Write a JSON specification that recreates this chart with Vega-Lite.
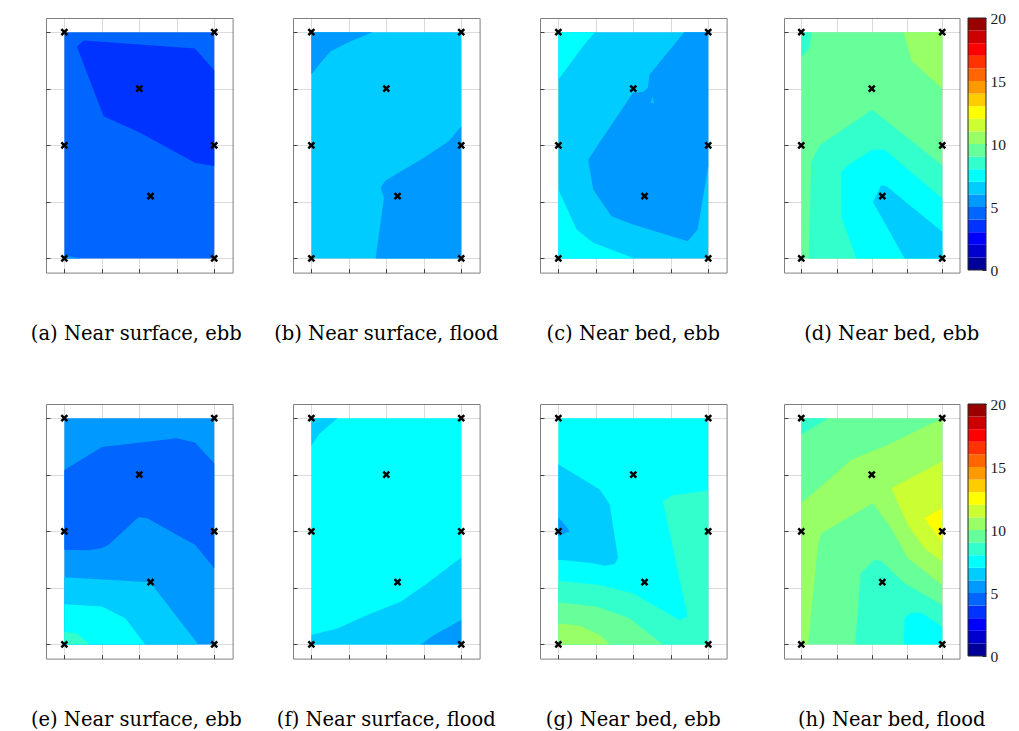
{
 "$schema": "https://vega.github.io/schema/vega-lite/v6.json",
 "background": "white",
 "padding": {"left": 30, "top": 11, "right": 5, "bottom": 5},
 "datasets": {
  "pts": [{"x":0,"y":0},{"x":4,"y":0},{"x":0,"y":2},{"x":4,"y":2},{"x":0,"y":4},{"x":4,"y":4},{"x":2,"y":3},{"x":2.3,"y":1.1}],
  "cb": [{"lo":0,"hi":1,"b":1},{"lo":1,"hi":2,"b":2},{"lo":2,"hi":3,"b":3},{"lo":3,"hi":4,"b":4},{"lo":4,"hi":5,"b":5},{"lo":5,"hi":6,"b":6},{"lo":6,"hi":7,"b":7},{"lo":7,"hi":8,"b":8},{"lo":8,"hi":9,"b":9},{"lo":9,"hi":10,"b":10},{"lo":10,"hi":11,"b":11},{"lo":11,"hi":12,"b":12},{"lo":12,"hi":13,"b":13},{"lo":13,"hi":14,"b":14},{"lo":14,"hi":15,"b":15},{"lo":15,"hi":16,"b":16},{"lo":16,"hi":17,"b":17},{"lo":17,"hi":18,"b":18},{"lo":18,"hi":19,"b":19},{"lo":19,"hi":20,"b":20}],
  "poly": [
   {"p":"a","id":"a0","b":5,"i":0,"x":0,"y":0},{"p":"a","id":"a0","b":5,"i":1,"x":4,"y":0},{"p":"a","id":"a0","b":5,"i":2,"x":4,"y":4},{"p":"a","id":"a0","b":5,"i":3,"x":0,"y":4},
   {"p":"a","id":"a1","b":4,"i":0,"x":0.337,"y":3.741},{"p":"a","id":"a1","b":4,"i":1,"x":0.514,"y":3.853},{"p":"a","id":"a1","b":4,"i":2,"x":3.486,"y":3.711},{"p":"a","id":"a1","b":4,"i":3,"x":4,"y":3.328},{"p":"a","id":"a1","b":4,"i":4,"x":4,"y":1.632},{"p":"a","id":"a1","b":4,"i":5,"x":3.486,"y":1.691},{"p":"a","id":"a1","b":4,"i":6,"x":2.998,"y":1.867},{"p":"a","id":"a1","b":4,"i":7,"x":2.022,"y":2.221},{"p":"a","id":"a1","b":4,"i":8,"x":1.047,"y":2.515},
   {"p":"a","id":"a2","b":6,"i":0,"x":0,"y":0},{"p":"a","id":"a2","b":6,"i":1,"x":0,"y":0.06},{"p":"a","id":"a2","b":6,"i":2,"x":0.2,"y":0.03},{"p":"a","id":"a2","b":6,"i":3,"x":0.45,"y":0},
   {"p":"b","id":"b0","b":7,"i":0,"x":0,"y":0},{"p":"b","id":"b0","b":7,"i":1,"x":4,"y":0},{"p":"b","id":"b0","b":7,"i":2,"x":4,"y":4},{"p":"b","id":"b0","b":7,"i":3,"x":0,"y":4},
   {"p":"b","id":"b1","b":6,"i":0,"x":0,"y":4},{"p":"b","id":"b1","b":6,"i":1,"x":1.627,"y":4},{"p":"b","id":"b1","b":6,"i":2,"x":1.049,"y":3.841},{"p":"b","id":"b1","b":6,"i":3,"x":0.516,"y":3.664},{"p":"b","id":"b1","b":6,"i":4,"x":0.249,"y":3.458},{"p":"b","id":"b1","b":6,"i":5,"x":0,"y":3.252},
   {"p":"b","id":"b2","b":6,"i":0,"x":1.716,"y":0},{"p":"b","id":"b2","b":6,"i":1,"x":1.938,"y":1.072},{"p":"b","id":"b2","b":6,"i":2,"x":1.849,"y":1.249},{"p":"b","id":"b2","b":6,"i":3,"x":1.982,"y":1.378},{"p":"b","id":"b2","b":6,"i":4,"x":3.004,"y":1.779},{"p":"b","id":"b2","b":6,"i":5,"x":3.671,"y":2.074},{"p":"b","id":"b2","b":6,"i":6,"x":4,"y":2.339},{"p":"b","id":"b2","b":6,"i":7,"x":4,"y":0},
   {"p":"c","id":"c0","b":7,"i":0,"x":0,"y":0},{"p":"c","id":"c0","b":7,"i":1,"x":4,"y":0},{"p":"c","id":"c0","b":7,"i":2,"x":4,"y":4},{"p":"c","id":"c0","b":7,"i":3,"x":0,"y":4},
   {"p":"c","id":"c1","b":8,"i":0,"x":0,"y":4},{"p":"c","id":"c1","b":8,"i":1,"x":0.973,"y":4},{"p":"c","id":"c1","b":8,"i":2,"x":0.664,"y":3.753},{"p":"c","id":"c1","b":8,"i":3,"x":0,"y":3.164},
   {"p":"c","id":"c2","b":8,"i":0,"x":0,"y":1.219},{"p":"c","id":"c2","b":8,"i":1,"x":0.487,"y":0.513},{"p":"c","id":"c2","b":8,"i":2,"x":0.929,"y":0.277},{"p":"c","id":"c2","b":8,"i":3,"x":2.035,"y":0},{"p":"c","id":"c2","b":8,"i":4,"x":0,"y":0},
   {"p":"c","id":"c3","b":6,"i":0,"x":3.363,"y":4},{"p":"c","id":"c3","b":6,"i":1,"x":4,"y":4},{"p":"c","id":"c3","b":6,"i":2,"x":4,"y":1.632},{"p":"c","id":"c3","b":6,"i":3,"x":3.717,"y":0.513},{"p":"c","id":"c3","b":6,"i":4,"x":3.451,"y":0.306},{"p":"c","id":"c3","b":6,"i":5,"x":1.991,"y":0.601},{"p":"c","id":"c3","b":6,"i":6,"x":1.416,"y":0.748},{"p":"c","id":"c3","b":6,"i":7,"x":0.929,"y":1.219},{"p":"c","id":"c3","b":6,"i":8,"x":0.796,"y":1.75},{"p":"c","id":"c3","b":6,"i":9,"x":1.991,"y":2.928},{"p":"c","id":"c3","b":6,"i":10,"x":2.257,"y":2.94},{"p":"c","id":"c3","b":6,"i":11,"x":2.389,"y":3.016},{"p":"c","id":"c3","b":6,"i":12,"x":2.434,"y":3.252},
   {"p":"c","id":"c4","b":7,"i":0,"x":2.47,"y":2.76},{"p":"c","id":"c4","b":7,"i":1,"x":2.52,"y":2.86},{"p":"c","id":"c4","b":7,"i":2,"x":2.55,"y":2.74},
   {"p":"d","id":"d0","b":10,"i":0,"x":0,"y":0},{"p":"d","id":"d0","b":10,"i":1,"x":4,"y":0},{"p":"d","id":"d0","b":10,"i":2,"x":4,"y":4},{"p":"d","id":"d0","b":10,"i":3,"x":0,"y":4},
   {"p":"d","id":"d1","b":9,"i":0,"x":0,"y":4},{"p":"d","id":"d1","b":9,"i":1,"x":0.284,"y":4},{"p":"d","id":"d1","b":9,"i":2,"x":0.236,"y":3.706},{"p":"d","id":"d1","b":9,"i":3,"x":0,"y":3.559},
   {"p":"d","id":"d2","b":11,"i":0,"x":2.913,"y":4},{"p":"d","id":"d2","b":11,"i":1,"x":4,"y":4},{"p":"d","id":"d2","b":11,"i":2,"x":4,"y":3},{"p":"d","id":"d2","b":11,"i":3,"x":3.121,"y":3.5},
   {"p":"d","id":"d3","b":9,"i":0,"x":0.208,"y":0},{"p":"d","id":"d3","b":9,"i":1,"x":0.284,"y":1.706},{"p":"d","id":"d3","b":9,"i":2,"x":0.52,"y":2.0},{"p":"d","id":"d3","b":9,"i":3,"x":2.014,"y":2.629},{"p":"d","id":"d3","b":9,"i":4,"x":4,"y":1.647},{"p":"d","id":"d3","b":9,"i":5,"x":4,"y":0},
   {"p":"d","id":"d4","b":8,"i":0,"x":1.56,"y":0},{"p":"d","id":"d4","b":8,"i":1,"x":1.135,"y":0.735},{"p":"d","id":"d4","b":8,"i":2,"x":1.135,"y":1.529},{"p":"d","id":"d4","b":8,"i":3,"x":1.324,"y":1.647},{"p":"d","id":"d4","b":8,"i":4,"x":2.033,"y":1.924},{"p":"d","id":"d4","b":8,"i":5,"x":2.364,"y":1.924},{"p":"d","id":"d4","b":8,"i":6,"x":4,"y":1.059},{"p":"d","id":"d4","b":8,"i":7,"x":4,"y":0},
   {"p":"d","id":"d5","b":7,"i":0,"x":2.931,"y":0},{"p":"d","id":"d5","b":7,"i":1,"x":2.033,"y":1.0},{"p":"d","id":"d5","b":7,"i":2,"x":2.27,"y":1.294},{"p":"d","id":"d5","b":7,"i":3,"x":2.411,"y":1.282},{"p":"d","id":"d5","b":7,"i":4,"x":4,"y":0.471},{"p":"d","id":"d5","b":7,"i":5,"x":4,"y":0},
   {"p":"e","id":"e0","b":6,"i":0,"x":0,"y":0},{"p":"e","id":"e0","b":6,"i":1,"x":4,"y":0},{"p":"e","id":"e0","b":6,"i":2,"x":4,"y":4},{"p":"e","id":"e0","b":6,"i":3,"x":0,"y":4},
   {"p":"e","id":"e1","b":5,"i":0,"x":0,"y":3.083},{"p":"e","id":"e1","b":5,"i":1,"x":1.002,"y":3.491},{"p":"e","id":"e1","b":5,"i":2,"x":2.998,"y":3.645},{"p":"e","id":"e1","b":5,"i":3,"x":3.486,"y":3.568},{"p":"e","id":"e1","b":5,"i":4,"x":4,"y":3.201},{"p":"e","id":"e1","b":5,"i":5,"x":4,"y":1.349},{"p":"e","id":"e1","b":5,"i":6,"x":3.486,"y":1.763},{"p":"e","id":"e1","b":5,"i":7,"x":2.998,"y":1.941},{"p":"e","id":"e1","b":5,"i":8,"x":2.2,"y":2.237},{"p":"e","id":"e1","b":5,"i":9,"x":1.978,"y":2.249},{"p":"e","id":"e1","b":5,"i":10,"x":1.18,"y":1.763},{"p":"e","id":"e1","b":5,"i":11,"x":1.002,"y":1.704},{"p":"e","id":"e1","b":5,"i":12,"x":0.647,"y":1.663},{"p":"e","id":"e1","b":5,"i":13,"x":0,"y":1.675},
   {"p":"e","id":"e2","b":7,"i":0,"x":0,"y":1.189},{"p":"e","id":"e2","b":7,"i":1,"x":2.288,"y":1.101},{"p":"e","id":"e2","b":7,"i":2,"x":3.574,"y":0},{"p":"e","id":"e2","b":7,"i":3,"x":0,"y":0},
   {"p":"e","id":"e3","b":8,"i":0,"x":0,"y":0.71},{"p":"e","id":"e3","b":8,"i":1,"x":1.002,"y":0.669},{"p":"e","id":"e3","b":8,"i":2,"x":1.623,"y":0.462},{"p":"e","id":"e3","b":8,"i":3,"x":2.155,"y":0},{"p":"e","id":"e3","b":8,"i":4,"x":0,"y":0},
   {"p":"e","id":"e4","b":9,"i":0,"x":0,"y":0.225},{"p":"e","id":"e4","b":9,"i":1,"x":0.337,"y":0.195},{"p":"e","id":"e4","b":9,"i":2,"x":0.692,"y":0},{"p":"e","id":"e4","b":9,"i":3,"x":0,"y":0},
   {"p":"f","id":"f0","b":8,"i":0,"x":0,"y":0},{"p":"f","id":"f0","b":8,"i":1,"x":4,"y":0},{"p":"f","id":"f0","b":8,"i":2,"x":4,"y":4},{"p":"f","id":"f0","b":8,"i":3,"x":0,"y":4},
   {"p":"f","id":"f1","b":7,"i":0,"x":0,"y":4},{"p":"f","id":"f1","b":7,"i":1,"x":0.693,"y":4},{"p":"f","id":"f1","b":7,"i":2,"x":0.204,"y":3.716},{"p":"f","id":"f1","b":7,"i":3,"x":0,"y":3.509},
   {"p":"f","id":"f2","b":7,"i":0,"x":0,"y":0.166},{"p":"f","id":"f2","b":7,"i":1,"x":0.338,"y":0.225},{"p":"f","id":"f2","b":7,"i":2,"x":0.693,"y":0.284},{"p":"f","id":"f2","b":7,"i":3,"x":1.493,"y":0.521},{"p":"f","id":"f2","b":7,"i":4,"x":2.382,"y":0.757},{"p":"f","id":"f2","b":7,"i":5,"x":3.093,"y":1.083},{"p":"f","id":"f2","b":7,"i":6,"x":4,"y":1.538},{"p":"f","id":"f2","b":7,"i":7,"x":4,"y":0},{"p":"f","id":"f2","b":7,"i":8,"x":0,"y":0},
   {"p":"f","id":"f3","b":6,"i":0,"x":2.916,"y":0},{"p":"f","id":"f3","b":6,"i":1,"x":3.271,"y":0.166},{"p":"f","id":"f3","b":6,"i":2,"x":4,"y":0.432},{"p":"f","id":"f3","b":6,"i":3,"x":4,"y":0},
   {"p":"g","id":"g0","b":8,"i":0,"x":0,"y":0},{"p":"g","id":"g0","b":8,"i":1,"x":4,"y":0},{"p":"g","id":"g0","b":8,"i":2,"x":4,"y":4},{"p":"g","id":"g0","b":8,"i":3,"x":0,"y":4},
   {"p":"g","id":"g1","b":7,"i":0,"x":0,"y":3.183},{"p":"g","id":"g1","b":7,"i":1,"x":1.106,"y":2.74},{"p":"g","id":"g1","b":7,"i":2,"x":1.372,"y":2.473},{"p":"g","id":"g1","b":7,"i":3,"x":1.593,"y":1.527},{"p":"g","id":"g1","b":7,"i":4,"x":1.504,"y":1.42},{"p":"g","id":"g1","b":7,"i":5,"x":1.239,"y":1.391},{"p":"g","id":"g1","b":7,"i":6,"x":0.885,"y":1.438},{"p":"g","id":"g1","b":7,"i":7,"x":0,"y":1.497},
   {"p":"g","id":"g2","b":6,"i":0,"x":0,"y":2.249},{"p":"g","id":"g2","b":6,"i":1,"x":0.31,"y":2.0},{"p":"g","id":"g2","b":6,"i":2,"x":0,"y":1.911},
   {"p":"g","id":"g3","b":9,"i":0,"x":0,"y":1.124},{"p":"g","id":"g3","b":9,"i":1,"x":1.106,"y":1.053},{"p":"g","id":"g3","b":9,"i":2,"x":1.991,"y":0.905},{"p":"g","id":"g3","b":9,"i":3,"x":3.23,"y":0.432},{"p":"g","id":"g3","b":9,"i":4,"x":3.451,"y":0.491},{"p":"g","id":"g3","b":9,"i":5,"x":2.788,"y":2.533},{"p":"g","id":"g3","b":9,"i":6,"x":3.053,"y":2.639},{"p":"g","id":"g3","b":9,"i":7,"x":4,"y":2.722},{"p":"g","id":"g3","b":9,"i":8,"x":4,"y":0},{"p":"g","id":"g3","b":9,"i":9,"x":0,"y":0},
   {"p":"g","id":"g4","b":10,"i":0,"x":0,"y":0.746},{"p":"g","id":"g4","b":10,"i":1,"x":1.018,"y":0.669},{"p":"g","id":"g4","b":10,"i":2,"x":1.903,"y":0.462},{"p":"g","id":"g4","b":10,"i":3,"x":2.788,"y":0},{"p":"g","id":"g4","b":10,"i":4,"x":0,"y":0},
   {"p":"g","id":"g5","b":11,"i":0,"x":0,"y":0.373},{"p":"g","id":"g5","b":11,"i":1,"x":0.575,"y":0.331},{"p":"g","id":"g5","b":11,"i":2,"x":1.106,"y":0.166},{"p":"g","id":"g5","b":11,"i":3,"x":1.372,"y":0},{"p":"g","id":"g5","b":11,"i":4,"x":0,"y":0},
   {"p":"h","id":"h0","b":10,"i":0,"x":0,"y":0},{"p":"h","id":"h0","b":10,"i":1,"x":4,"y":0},{"p":"h","id":"h0","b":10,"i":2,"x":4,"y":4},{"p":"h","id":"h0","b":10,"i":3,"x":0,"y":4},
   {"p":"h","id":"h1","b":9,"i":0,"x":0,"y":4},{"p":"h","id":"h1","b":9,"i":1,"x":0.757,"y":4},{"p":"h","id":"h1","b":9,"i":2,"x":0,"y":3.705},
   {"p":"h","id":"h2","b":11,"i":0,"x":0,"y":2.496},{"p":"h","id":"h2","b":11,"i":1,"x":0.662,"y":2.85},{"p":"h","id":"h2","b":11,"i":2,"x":1.418,"y":3.263},{"p":"h","id":"h2","b":11,"i":3,"x":2.459,"y":3.528},{"p":"h","id":"h2","b":11,"i":4,"x":4,"y":4},{"p":"h","id":"h2","b":11,"i":5,"x":4,"y":1.05},{"p":"h","id":"h2","b":11,"i":6,"x":3.026,"y":1.522},{"p":"h","id":"h2","b":11,"i":7,"x":2.553,"y":2.053},{"p":"h","id":"h2","b":11,"i":8,"x":2.033,"y":2.496},{"p":"h","id":"h2","b":11,"i":9,"x":0.567,"y":1.965},{"p":"h","id":"h2","b":11,"i":10,"x":0.473,"y":1.758},{"p":"h","id":"h2","b":11,"i":11,"x":0.189,"y":0},{"p":"h","id":"h2","b":11,"i":12,"x":0,"y":0},
   {"p":"h","id":"h3","b":12,"i":0,"x":2.553,"y":2.761},{"p":"h","id":"h3","b":12,"i":1,"x":4,"y":3.233},{"p":"h","id":"h3","b":12,"i":2,"x":4,"y":1.463},{"p":"h","id":"h3","b":12,"i":3,"x":3.499,"y":1.699},{"p":"h","id":"h3","b":12,"i":4,"x":3.026,"y":2.112},
   {"p":"h","id":"h4","b":13,"i":0,"x":3.499,"y":2.23},{"p":"h","id":"h4","b":13,"i":1,"x":4,"y":2.407},{"p":"h","id":"h4","b":13,"i":2,"x":4,"y":1.817},
   {"p":"h","id":"h5","b":9,"i":0,"x":1.532,"y":0},{"p":"h","id":"h5","b":9,"i":1,"x":1.683,"y":1.257},{"p":"h","id":"h5","b":9,"i":2,"x":2.08,"y":1.493},{"p":"h","id":"h5","b":9,"i":3,"x":2.27,"y":1.475},{"p":"h","id":"h5","b":9,"i":4,"x":2.931,"y":1.08},{"p":"h","id":"h5","b":9,"i":5,"x":4,"y":0.696},{"p":"h","id":"h5","b":9,"i":6,"x":4,"y":0},
   {"p":"h","id":"h6","b":8,"i":0,"x":2.913,"y":0},{"p":"h","id":"h6","b":8,"i":1,"x":2.931,"y":0.472},{"p":"h","id":"h6","b":8,"i":2,"x":3.121,"y":0.56},{"p":"h","id":"h6","b":8,"i":3,"x":3.404,"y":0.56},{"p":"h","id":"h6","b":8,"i":4,"x":4,"y":0.313},{"p":"h","id":"h6","b":8,"i":5,"x":4,"y":0}
  ]
 },
 "columns": 8,
 "spacing": {"row": 131, "column": 8},
 "bounds": "flush",
 "align": "each",
 "concat": [
  {"width": 186.6, "height": 254.6, "title": {"text": "(a) Near surface, ebb", "dx": -3},
   "encoding": {"x": {"field": "x", "type": "quantitative", "scale": {"domain": [-0.49, 4.49], "nice": false, "zero": false}, "axis": {"title": null, "values": [0,1,2,3,4]}}, "y": {"field": "y", "type": "quantitative", "scale": {"domain": [-0.25, 4.25], "nice": false, "zero": false}, "axis": {"title": null, "values": [0,1,2,3,4]}}},
   "layer": [
    {"data": {"name": "poly"}, "transform": [{"filter": "datum.p == 'a'"}], "mark": {"type": "line", "filled": true, "interpolate": "linear-closed", "strokeWidth": 0, "opacity": 1}, "encoding": {"detail": {"field": "id"}, "order": {"field": "i", "type": "quantitative"}, "color": {"field": "b", "type": "ordinal", "scale": {"domain": [1,2,3,4,5,6,7,8,9,10,11,12,13,14,15,16,17,18,19,20], "range": ["#000099","#0000CC","#0000FF","#0033FF","#0066FF","#0099FF","#00CCFF","#00FFFF","#33FFCC","#66FF99","#99FF66","#CCFF33","#FFFF00","#FFCC00","#FF9900","#FF6600","#FF3300","#FF0000","#CC0000","#990000"]}, "legend": null}}},
    {"data": {"name": "pts"}, "mark": {"type": "point", "shape": "M-1,-1L1,1M1,-1L-1,1", "filled": false, "color": "#000000", "strokeWidth": 2.5, "size": 36, "opacity": 1}}
   ]},
  {"width": 43.9, "height": 254.6, "data": {"values": []}, "mark": "point", "view": {"stroke": null}},
  {"width": 186.6, "height": 254.6, "title": {"text": "(b) Near surface, flood"},
   "encoding": {"x": {"field": "x", "type": "quantitative", "scale": {"domain": [-0.49, 4.49], "nice": false, "zero": false}, "axis": {"title": null, "values": [0,1,2,3,4]}}, "y": {"field": "y", "type": "quantitative", "scale": {"domain": [-0.25, 4.25], "nice": false, "zero": false}, "axis": {"title": null, "values": [0,1,2,3,4]}}},
   "layer": [
    {"data": {"name": "poly"}, "transform": [{"filter": "datum.p == 'b'"}], "mark": {"type": "line", "filled": true, "interpolate": "linear-closed", "strokeWidth": 0, "opacity": 1}, "encoding": {"detail": {"field": "id"}, "order": {"field": "i", "type": "quantitative"}, "color": {"field": "b", "type": "ordinal", "scale": {"domain": [1,2,3,4,5,6,7,8,9,10,11,12,13,14,15,16,17,18,19,20], "range": ["#000099","#0000CC","#0000FF","#0033FF","#0066FF","#0099FF","#00CCFF","#00FFFF","#33FFCC","#66FF99","#99FF66","#CCFF33","#FFFF00","#FFCC00","#FF9900","#FF6600","#FF3300","#FF0000","#CC0000","#990000"]}, "legend": null}}},
    {"data": {"name": "pts"}, "mark": {"type": "point", "shape": "M-1,-1L1,1M1,-1L-1,1", "filled": false, "color": "#000000", "strokeWidth": 2.5, "size": 36, "opacity": 1}}
   ]},
  {"width": 43.9, "height": 254.6, "data": {"values": []}, "mark": "point", "view": {"stroke": null}},
  {"width": 186.6, "height": 254.6, "title": {"text": "(c) Near bed, ebb"},
   "encoding": {"x": {"field": "x", "type": "quantitative", "scale": {"domain": [-0.49, 4.49], "nice": false, "zero": false}, "axis": {"title": null, "values": [0,1,2,3,4]}}, "y": {"field": "y", "type": "quantitative", "scale": {"domain": [-0.25, 4.25], "nice": false, "zero": false}, "axis": {"title": null, "values": [0,1,2,3,4]}}},
   "layer": [
    {"data": {"name": "poly"}, "transform": [{"filter": "datum.p == 'c'"}], "mark": {"type": "line", "filled": true, "interpolate": "linear-closed", "strokeWidth": 0, "opacity": 1}, "encoding": {"detail": {"field": "id"}, "order": {"field": "i", "type": "quantitative"}, "color": {"field": "b", "type": "ordinal", "scale": {"domain": [1,2,3,4,5,6,7,8,9,10,11,12,13,14,15,16,17,18,19,20], "range": ["#000099","#0000CC","#0000FF","#0033FF","#0066FF","#0099FF","#00CCFF","#00FFFF","#33FFCC","#66FF99","#99FF66","#CCFF33","#FFFF00","#FFCC00","#FF9900","#FF6600","#FF3300","#FF0000","#CC0000","#990000"]}, "legend": null}}},
    {"data": {"name": "pts"}, "mark": {"type": "point", "shape": "M-1,-1L1,1M1,-1L-1,1", "filled": false, "color": "#000000", "strokeWidth": 2.5, "size": 36, "opacity": 1}}
   ]},
  {"width": 40.2, "height": 254.6, "data": {"values": []}, "mark": "point", "view": {"stroke": null}},
  {"width": 175.5, "height": 254.6, "title": {"text": "(d) Near bed, ebb", "dx": 20},
   "encoding": {"x": {"field": "x", "type": "quantitative", "scale": {"domain": [-0.49, 4.49], "nice": false, "zero": false}, "axis": {"title": null, "values": [0,1,2,3,4]}}, "y": {"field": "y", "type": "quantitative", "scale": {"domain": [-0.25, 4.25], "nice": false, "zero": false}, "axis": {"title": null, "values": [0,1,2,3,4]}}},
   "layer": [
    {"data": {"name": "poly"}, "transform": [{"filter": "datum.p == 'd'"}], "mark": {"type": "line", "filled": true, "interpolate": "linear-closed", "strokeWidth": 0, "opacity": 1}, "encoding": {"detail": {"field": "id"}, "order": {"field": "i", "type": "quantitative"}, "color": {"field": "b", "type": "ordinal", "scale": {"domain": [1,2,3,4,5,6,7,8,9,10,11,12,13,14,15,16,17,18,19,20], "range": ["#000099","#0000CC","#0000FF","#0033FF","#0066FF","#0099FF","#00CCFF","#00FFFF","#33FFCC","#66FF99","#99FF66","#CCFF33","#FFFF00","#FFCC00","#FF9900","#FF6600","#FF3300","#FF0000","#CC0000","#990000"]}, "legend": null}}},
    {"data": {"name": "pts"}, "mark": {"type": "point", "shape": "M-1,-1L1,1M1,-1L-1,1", "filled": false, "color": "#000000", "strokeWidth": 2.5, "size": 36, "opacity": 1}}
   ]},
  {"width": 18, "height": 252, "data": {"name": "cb"}, "view": {"stroke": null},
   "encoding": {"x": {"datum": 0, "type": "quantitative", "scale": {"domain": [0, 1], "nice": false, "zero": false}, "axis": null}, "x2": {"datum": 1}},
   "layer": [
    {"mark": {"type": "rect", "strokeWidth": 0}, "encoding": {"y": {"field": "lo", "type": "quantitative", "scale": {"domain": [0, 20], "nice": false, "zero": false}, "axis": {"orient": "right", "title": null, "values": [0,5,10,15,20], "grid": false, "labels": true, "ticks": true, "tickSize": -4, "tickColor": "#262626", "domain": false, "labelFont": "Liberation Serif", "labelFontSize": 15.5, "labelColor": "#1a1a1a", "labelPadding": 8}}, "y2": {"field": "hi"}, "color": {"field": "b", "type": "ordinal", "scale": {"domain": [1,2,3,4,5,6,7,8,9,10,11,12,13,14,15,16,17,18,19,20], "range": ["#000099","#0000CC","#0000FF","#0033FF","#0066FF","#0099FF","#00CCFF","#00FFFF","#33FFCC","#66FF99","#99FF66","#CCFF33","#FFFF00","#FFCC00","#FF9900","#FF6600","#FF3300","#FF0000","#CC0000","#990000"]}, "legend": null}}},
    {"mark": {"type": "rect", "filled": false, "color": "#262626", "strokeWidth": 1}, "encoding": {"y": {"aggregate": "min", "field": "lo", "type": "quantitative"}, "y2": {"aggregate": "max", "field": "hi"}}}
   ]},
  {"width": 186.6, "height": 254.6, "title": {"text": "(e) Near surface, ebb", "dx": -3},
   "encoding": {"x": {"field": "x", "type": "quantitative", "scale": {"domain": [-0.49, 4.49], "nice": false, "zero": false}, "axis": {"title": null, "values": [0,1,2,3,4]}}, "y": {"field": "y", "type": "quantitative", "scale": {"domain": [-0.25, 4.25], "nice": false, "zero": false}, "axis": {"title": null, "values": [0,1,2,3,4]}}},
   "layer": [
    {"data": {"name": "poly"}, "transform": [{"filter": "datum.p == 'e'"}], "mark": {"type": "line", "filled": true, "interpolate": "linear-closed", "strokeWidth": 0, "opacity": 1}, "encoding": {"detail": {"field": "id"}, "order": {"field": "i", "type": "quantitative"}, "color": {"field": "b", "type": "ordinal", "scale": {"domain": [1,2,3,4,5,6,7,8,9,10,11,12,13,14,15,16,17,18,19,20], "range": ["#000099","#0000CC","#0000FF","#0033FF","#0066FF","#0099FF","#00CCFF","#00FFFF","#33FFCC","#66FF99","#99FF66","#CCFF33","#FFFF00","#FFCC00","#FF9900","#FF6600","#FF3300","#FF0000","#CC0000","#990000"]}, "legend": null}}},
    {"data": {"name": "pts"}, "mark": {"type": "point", "shape": "M-1,-1L1,1M1,-1L-1,1", "filled": false, "color": "#000000", "strokeWidth": 2.5, "size": 36, "opacity": 1}}
   ]},
  {"width": 43.9, "height": 254.6, "data": {"values": []}, "mark": "point", "view": {"stroke": null}},
  {"width": 186.6, "height": 254.6, "title": {"text": "(f) Near surface, flood"},
   "encoding": {"x": {"field": "x", "type": "quantitative", "scale": {"domain": [-0.49, 4.49], "nice": false, "zero": false}, "axis": {"title": null, "values": [0,1,2,3,4]}}, "y": {"field": "y", "type": "quantitative", "scale": {"domain": [-0.25, 4.25], "nice": false, "zero": false}, "axis": {"title": null, "values": [0,1,2,3,4]}}},
   "layer": [
    {"data": {"name": "poly"}, "transform": [{"filter": "datum.p == 'f'"}], "mark": {"type": "line", "filled": true, "interpolate": "linear-closed", "strokeWidth": 0, "opacity": 1}, "encoding": {"detail": {"field": "id"}, "order": {"field": "i", "type": "quantitative"}, "color": {"field": "b", "type": "ordinal", "scale": {"domain": [1,2,3,4,5,6,7,8,9,10,11,12,13,14,15,16,17,18,19,20], "range": ["#000099","#0000CC","#0000FF","#0033FF","#0066FF","#0099FF","#00CCFF","#00FFFF","#33FFCC","#66FF99","#99FF66","#CCFF33","#FFFF00","#FFCC00","#FF9900","#FF6600","#FF3300","#FF0000","#CC0000","#990000"]}, "legend": null}}},
    {"data": {"name": "pts"}, "mark": {"type": "point", "shape": "M-1,-1L1,1M1,-1L-1,1", "filled": false, "color": "#000000", "strokeWidth": 2.5, "size": 36, "opacity": 1}}
   ]},
  {"width": 43.9, "height": 254.6, "data": {"values": []}, "mark": "point", "view": {"stroke": null}},
  {"width": 186.6, "height": 254.6, "title": {"text": "(g) Near bed, ebb"},
   "encoding": {"x": {"field": "x", "type": "quantitative", "scale": {"domain": [-0.49, 4.49], "nice": false, "zero": false}, "axis": {"title": null, "values": [0,1,2,3,4]}}, "y": {"field": "y", "type": "quantitative", "scale": {"domain": [-0.25, 4.25], "nice": false, "zero": false}, "axis": {"title": null, "values": [0,1,2,3,4]}}},
   "layer": [
    {"data": {"name": "poly"}, "transform": [{"filter": "datum.p == 'g'"}], "mark": {"type": "line", "filled": true, "interpolate": "linear-closed", "strokeWidth": 0, "opacity": 1}, "encoding": {"detail": {"field": "id"}, "order": {"field": "i", "type": "quantitative"}, "color": {"field": "b", "type": "ordinal", "scale": {"domain": [1,2,3,4,5,6,7,8,9,10,11,12,13,14,15,16,17,18,19,20], "range": ["#000099","#0000CC","#0000FF","#0033FF","#0066FF","#0099FF","#00CCFF","#00FFFF","#33FFCC","#66FF99","#99FF66","#CCFF33","#FFFF00","#FFCC00","#FF9900","#FF6600","#FF3300","#FF0000","#CC0000","#990000"]}, "legend": null}}},
    {"data": {"name": "pts"}, "mark": {"type": "point", "shape": "M-1,-1L1,1M1,-1L-1,1", "filled": false, "color": "#000000", "strokeWidth": 2.5, "size": 36, "opacity": 1}}
   ]},
  {"width": 40.2, "height": 254.6, "data": {"values": []}, "mark": "point", "view": {"stroke": null}},
  {"width": 175.5, "height": 254.6, "title": {"text": "(h) Near bed, flood", "dx": 20},
   "encoding": {"x": {"field": "x", "type": "quantitative", "scale": {"domain": [-0.49, 4.49], "nice": false, "zero": false}, "axis": {"title": null, "values": [0,1,2,3,4]}}, "y": {"field": "y", "type": "quantitative", "scale": {"domain": [-0.25, 4.25], "nice": false, "zero": false}, "axis": {"title": null, "values": [0,1,2,3,4]}}},
   "layer": [
    {"data": {"name": "poly"}, "transform": [{"filter": "datum.p == 'h'"}], "mark": {"type": "line", "filled": true, "interpolate": "linear-closed", "strokeWidth": 0, "opacity": 1}, "encoding": {"detail": {"field": "id"}, "order": {"field": "i", "type": "quantitative"}, "color": {"field": "b", "type": "ordinal", "scale": {"domain": [1,2,3,4,5,6,7,8,9,10,11,12,13,14,15,16,17,18,19,20], "range": ["#000099","#0000CC","#0000FF","#0033FF","#0066FF","#0099FF","#00CCFF","#00FFFF","#33FFCC","#66FF99","#99FF66","#CCFF33","#FFFF00","#FFCC00","#FF9900","#FF6600","#FF3300","#FF0000","#CC0000","#990000"]}, "legend": null}}},
    {"data": {"name": "pts"}, "mark": {"type": "point", "shape": "M-1,-1L1,1M1,-1L-1,1", "filled": false, "color": "#000000", "strokeWidth": 2.5, "size": 36, "opacity": 1}}
   ]},
  {"width": 18, "height": 252, "data": {"name": "cb"}, "view": {"stroke": null},
   "encoding": {"x": {"datum": 0, "type": "quantitative", "scale": {"domain": [0, 1], "nice": false, "zero": false}, "axis": null}, "x2": {"datum": 1}},
   "layer": [
    {"mark": {"type": "rect", "strokeWidth": 0}, "encoding": {"y": {"field": "lo", "type": "quantitative", "scale": {"domain": [0, 20], "nice": false, "zero": false}, "axis": {"orient": "right", "title": null, "values": [0,5,10,15,20], "grid": false, "labels": true, "ticks": true, "tickSize": -4, "tickColor": "#262626", "domain": false, "labelFont": "Liberation Serif", "labelFontSize": 15.5, "labelColor": "#1a1a1a", "labelPadding": 8}}, "y2": {"field": "hi"}, "color": {"field": "b", "type": "ordinal", "scale": {"domain": [1,2,3,4,5,6,7,8,9,10,11,12,13,14,15,16,17,18,19,20], "range": ["#000099","#0000CC","#0000FF","#0033FF","#0066FF","#0099FF","#00CCFF","#00FFFF","#33FFCC","#66FF99","#99FF66","#CCFF33","#FFFF00","#FFCC00","#FF9900","#FF6600","#FF3300","#FF0000","#CC0000","#990000"]}, "legend": null}}},
    {"mark": {"type": "rect", "filled": false, "color": "#262626", "strokeWidth": 1}, "encoding": {"y": {"aggregate": "min", "field": "lo", "type": "quantitative"}, "y2": {"aggregate": "max", "field": "hi"}}}
   ]}
 ],
 "config": {
  "view": {"stroke": "#808080", "strokeWidth": 1},
  "axis": {"grid": true, "gridColor": "#000000", "gridOpacity": 0.14, "gridWidth": 1, "labels": false, "domain": false, "ticks": true, "tickSize": -4, "tickColor": "#404040", "tickWidth": 1, "zindex": 1, "minExtent": 0, "maxExtent": 0},
  "title": {"orient": "bottom", "anchor": "middle", "frame": "group", "font": "DejaVu Serif", "fontSize": 19.5, "fontWeight": "normal", "color": "#000000", "offset": 52, "baseline": "alphabetic"}
 }
}
